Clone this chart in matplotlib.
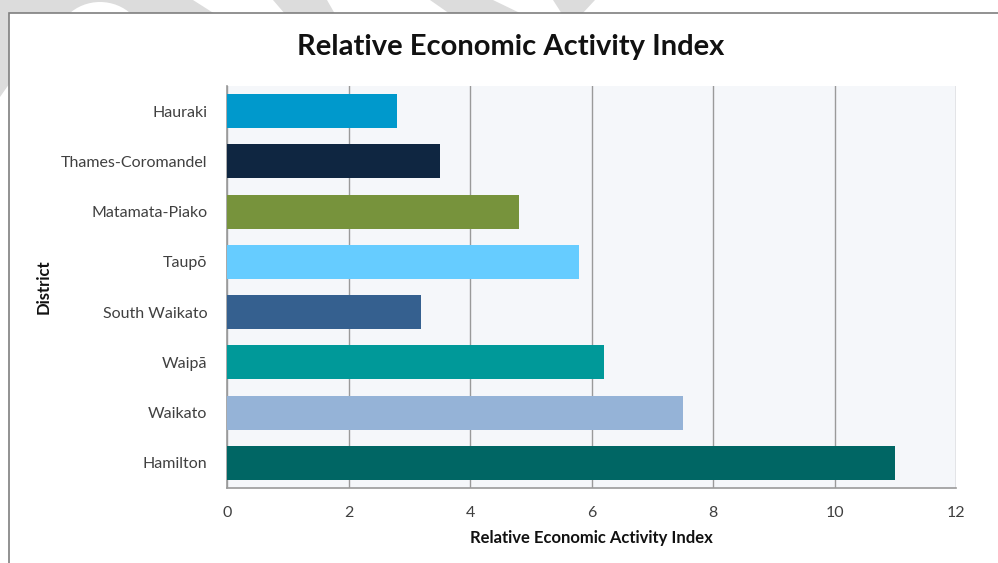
import matplotlib
matplotlib.use("Agg")
import matplotlib.pyplot as plt
from matplotlib.patches import Polygon, Rectangle, Ellipse

districts = ["Hauraki", "Thames-Coromandel", "Matamata-Piako", "Taupō",
             "South Waikato", "Waipā", "Waikato", "Hamilton"]
values = [2.8, 3.5, 4.8, 5.8, 3.2, 6.2, 7.5, 11.0]
colors = ["#0099CC", "#0F2641", "#77933C", "#66CCFF",
          "#35608F", "#009999", "#95B3D7", "#006664"]
xticks = [0, 2, 4, 6, 8, 10, 12]

title = "Relative Economic Activity Index"
xlabel = "Relative Economic Activity Index"
ylabel = "District"

plt.rcParams['font.family'] = ['Lato', 'DejaVu Sans']

W, H = 998, 563
fig = plt.figure(figsize=(W / 100, H / 100), dpi=100)
fig.patch.set_facecolor("white")

# background overlay (pixel coordinates) for watermark + chart frame
bg = fig.add_axes([0, 0, 1, 1], zorder=0)
bg.set_xlim(0, W)
bg.set_ylim(H, 0)
bg.axis("off")
wm = "#DCDCDC"
# watermark fragments visible outside the chart frame
bg.add_patch(Polygon([(0, 0), (193, 0), (215, 14), (0, 14)], closed=True, color=wm, lw=0))
bg.add_patch(Polygon([(0, 0), (12, 0), (12, 80), (0, 97)], closed=True, color=wm, lw=0))
bg.add_patch(Ellipse((100, 45), 90, 86, color="white", lw=0))
bg.add_patch(Polygon([(273, 0), (327, 0), (335, 14), (285, 14)], closed=True, color=wm, lw=0))
bg.add_patch(Polygon([(430, 0), (493, 0), (522, 14), (450, 14)], closed=True, color=wm, lw=0))
bg.add_patch(Polygon([(553, 0), (595, 0), (582, 14), (562, 14)], closed=True, color=wm, lw=0))
# chart frame
bg.add_patch(Rectangle((9.5, 12.5), W, H, facecolor="white", edgecolor="#7F7F7F", lw=1.2))

ax = fig.add_axes([227 / W, 1 - 488 / H, (956 - 227) / W, (488 - 86) / H], zorder=1)
ax.set_facecolor("#F5F7FA")
ypos = list(range(len(districts)))
ax.barh(ypos, values, height=0.68, color=colors, zorder=3)
ax.set_ylim(len(districts) - 0.5, -0.5)
ax.set_xlim(0, 12)
ax.set_xticks(xticks)
ax.set_xticklabels([str(t) for t in xticks])
ax.set_yticks(ypos)
ax.set_yticklabels(districts)
ax.tick_params(axis="both", length=0, labelsize=11.5, colors="#404040")
ax.tick_params(axis="x", pad=13)
ax.tick_params(axis="y", pad=14)
ax.xaxis.grid(True, color="#9A9A9A", lw=1.0, zorder=1)
ax.yaxis.grid(False)
for s in ["top", "right"]:
    ax.spines[s].set_visible(False)
for s in ["left", "bottom"]:
    ax.spines[s].set_color("#9A9A9A")
    ax.spines[s].set_linewidth(1.2)

ax.set_xlabel(xlabel, fontsize=12, fontweight="bold", color="#111111")
ax.xaxis.set_label_coords(0.5, -(538 - 488) / (488 - 86))
ax.set_ylabel(ylabel, fontsize=12, fontweight="bold", color="#111111")
ax.yaxis.set_label_coords(-(227 - 44) / (956 - 227), 0.5)
ax.xaxis.label.set_va("center")
ax.yaxis.label.set_va("center")

fig.text(511 / W, 1 - 47 / H, title, ha="center", va="center",
         fontsize=21, fontweight="bold", color="#111111")

fig.savefig("out.png", dpi=100, facecolor="white")
